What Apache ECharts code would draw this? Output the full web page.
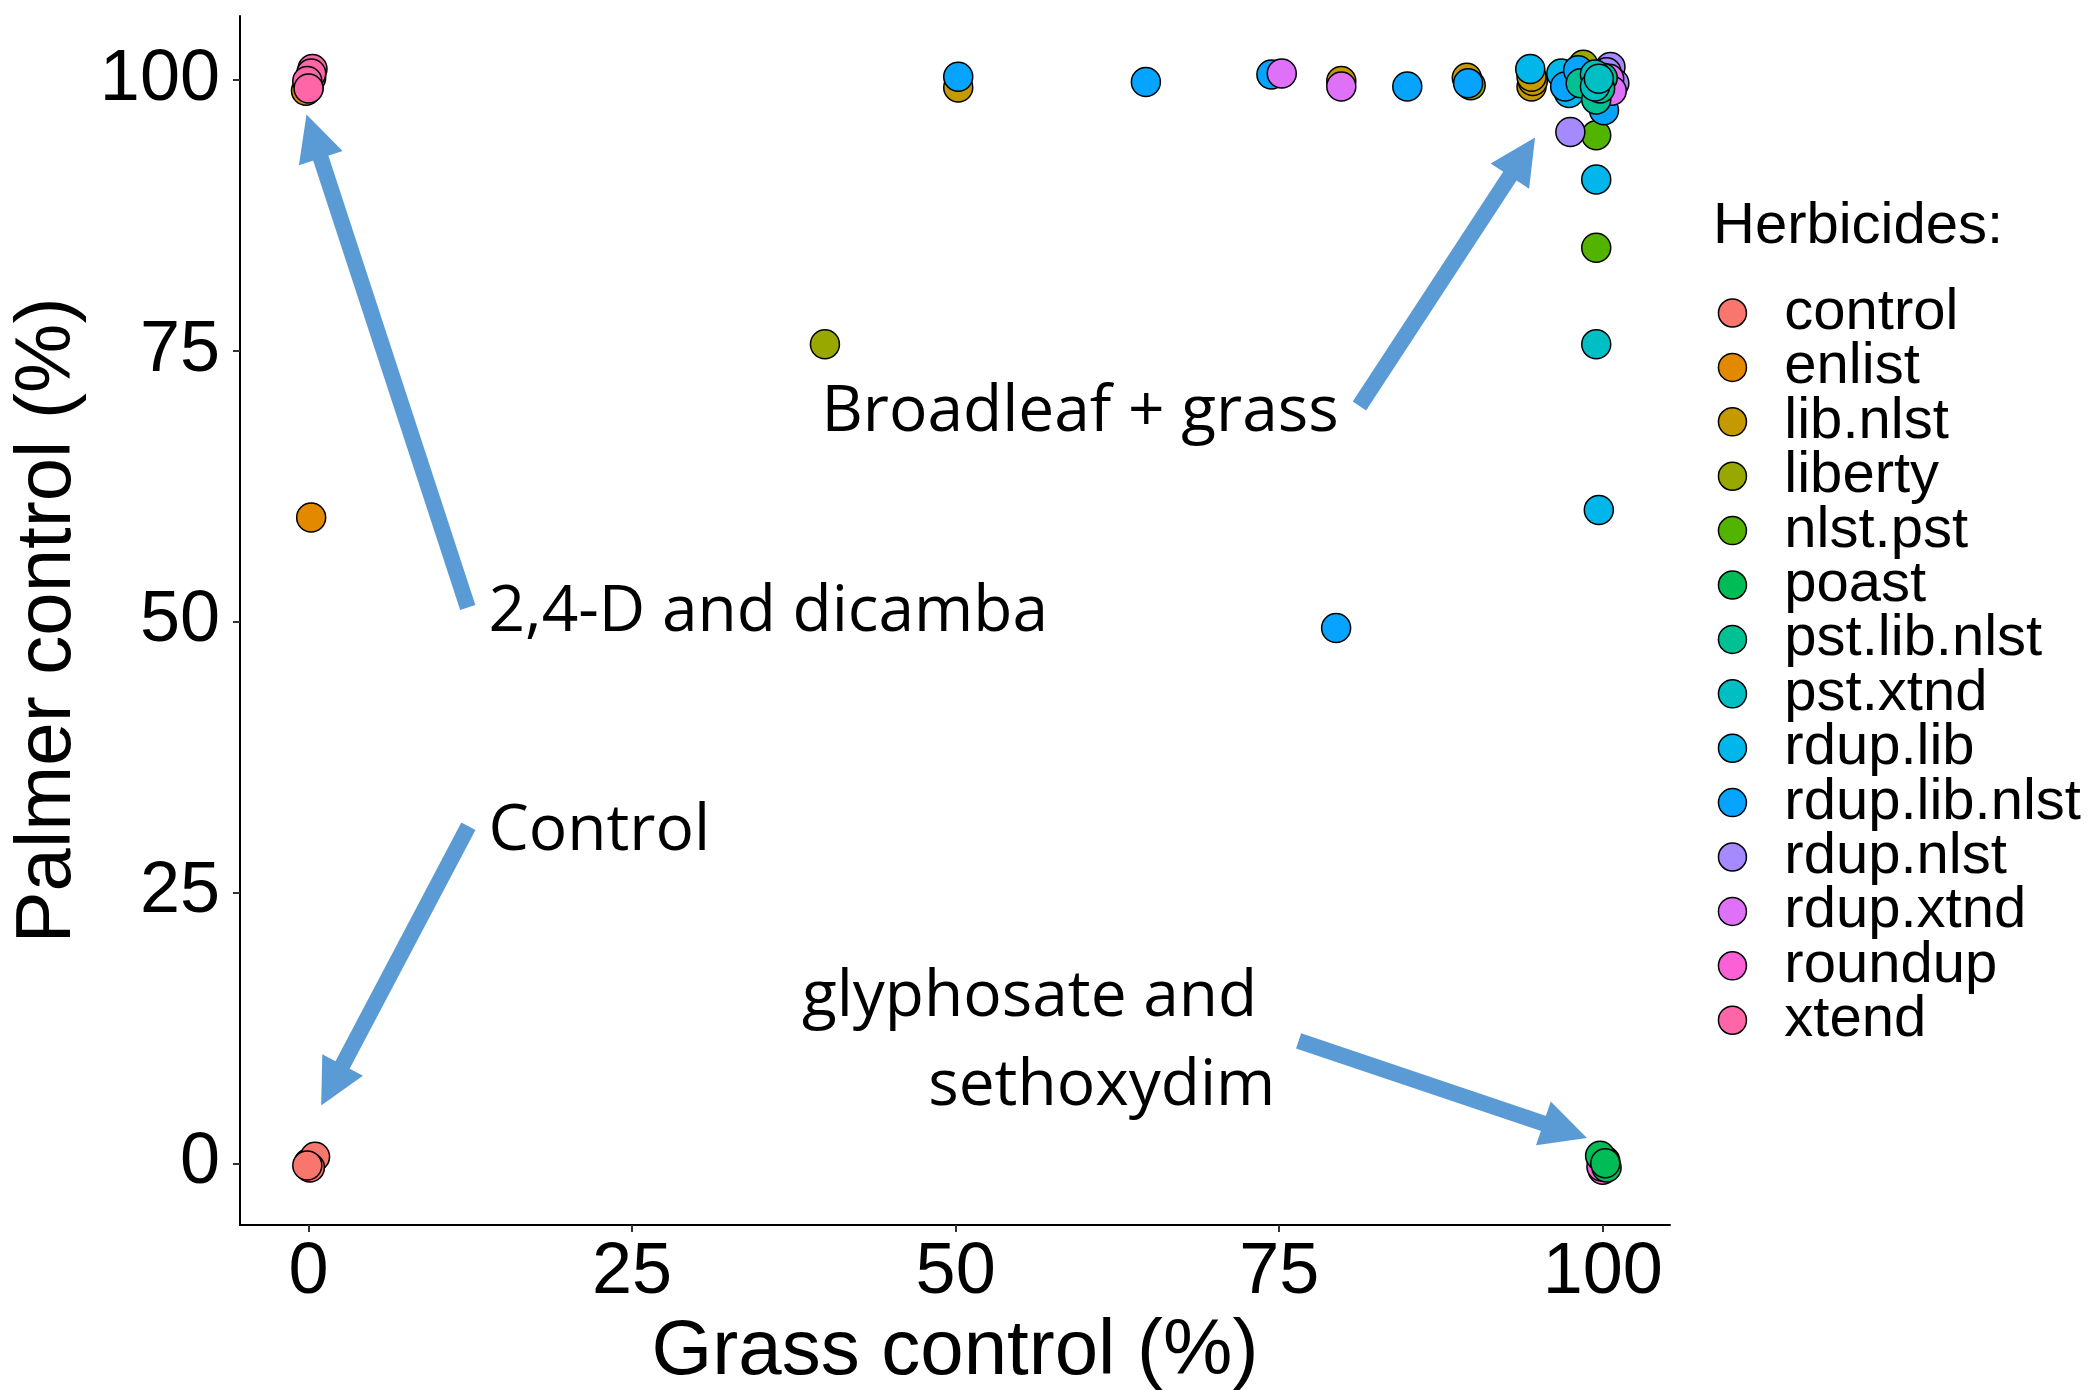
<!DOCTYPE html>
<html>
<head>
<meta charset="utf-8">
<script src="https://cdn.jsdelivr.net/npm/echarts@6/dist/echarts.min.js"></script>
<style>
html,body{margin:0;padding:0;background:#fff;}
#chart{width:2087px;height:1390px;}
</style>
</head>
<body>
<div id="chart"></div>
<script>
// ---- data ----
const categories = ['control','enlist','lib.nlst','liberty','nlst.pst','poast','pst.lib.nlst','pst.xtnd','rdup.lib','rdup.lib.nlst','rdup.nlst','rdup.xtnd','roundup','xtend'];
const colors = ['#F8766D','#E38900','#C49A00','#99A800','#53B400','#00BC56','#00C094','#00BFC4','#00B6EB','#06A4FF','#A58AFF','#DF70F8','#FB61D7','#FF66A8'];
const tickValues = [0,25,50,75,100];

const ptsControl = [[0.0,0.0],[0.5,0.6],[0.1,-0.4],[-0.1,-0.2]];
const ptsEnlist = [[0.2,59.6],[0.0,99.4],[0.2,100.2],[-0.2,99.0]];
const ptsLibNlst = [[50.2,99.3],[79.8,99.9],[89.5,100.2],[94.5,99.4],[94.6,99.9],[94.5,100.3]];
const ptsLiberty = [[39.9,75.6],[89.8,99.5],[98.5,101.4],[100.1,100.6]];
const ptsNlstPst = [[99.5,94.9],[99.5,84.5],[100.1,99.8],[100.4,100.3]];
const ptsPoast = [[100.0,0.4],[100.3,-0.4],[99.8,0.7],[100.2,0.0]];
const ptsPstLibNlst = [[98.3,99.7],[99.5,98.2],[100.0,100.2],[99.8,99.2]];
const ptsPstXtnd = [[99.5,75.6],[99.4,100.5],[99.4,99.4],[99.7,100.1]];
const ptsRdupLib = [[99.7,60.3],[99.5,90.8],[97.4,98.8],[94.4,101.0],[96.8,100.6]];
const ptsRdupLibNlst = [[79.4,49.4],[64.7,99.8],[84.9,99.4],[100.1,97.2],[50.2,100.3],[74.4,100.5],[89.6,99.7],[97.1,99.4],[98.1,100.9]];
const ptsRdupNlst = [[97.5,95.2],[100.6,101.2],[100.9,99.7],[100.3,100.7]];
const ptsRdupXtnd = [[75.2,100.6],[79.8,99.4],[100.5,100.1],[100.7,99.0]];
const ptsRoundup = [[100.0,-0.6],[100.2,0.2],[99.9,-0.3]];
const ptsXtend = [[0.3,101.0],[0.2,100.6],[-0.1,99.9],[0.0,99.2]];

const allPoints = [ptsControl,ptsEnlist,ptsLibNlst,ptsLiberty,ptsNlstPst,ptsPoast,ptsPstLibNlst,ptsPstXtnd,ptsRdupLib,ptsRdupLibNlst,ptsRdupNlst,ptsRdupXtnd,ptsRoundup,ptsXtend];

// annotation arrows: [xStart, yStart, xHead, yHead] in data units
const arrowCoords = [[12.3,51.3,0.39,94.8],[81.2,69.9,93.8,92.9],[12.35,31.1,1.8,7.2],[76.5,11.3,97.1,3.0]];
// annotation texts
const annoText = ['2,4-D and dicamba','Control','Broadleaf + grass','glyphosate and','sethoxydim'];
const annoX = [13.9,13.9,79.6,73.3,74.7];
const annoY = [50.8,30.6,69.3,15.3,7.1];
const annoAlign = ['left','left','right','right','right'];

// ---- chart ----
const chart = echarts.init(document.getElementById('chart'), null, {renderer:'canvas'});
const axisFont = 'Liberation Sans, Arial, sans-serif';

const zOrder = {'roundup':1,'pst.xtnd':4,'pst.lib.nlst':3};
const scatterSeries = categories.map((name,i)=>({
  name: name,
  type: 'scatter',
  data: allPoints[i],
  symbol: 'circle',
  symbolSize: 29,
  z: zOrder[name] !== undefined ? zOrder[name] : 2,
  itemStyle: {color: colors[i], borderColor: '#000', borderWidth: 1.5, opacity: 1},
  emphasis: {disabled: true}
}));

const arrowSeries = {
  type: 'lines',
  coordinateSystem: 'cartesian2d',
  silent: true,
  z: 1,
  symbol: ['none','triangle'],
  symbolSize: [46,46],
  lineStyle: {color: '#5B9BD5', width: 16, opacity: 1, curveness: 0},
  itemStyle: {color: '#5B9BD5'},
  data: arrowCoords.map(a=>({coords: [[a[0],a[1]],[a[2],a[3]]]}))
};

const annoSeries = {
  type: 'scatter',
  silent: true,
  symbolSize: 0,
  z: 5,
  data: annoText.map((t,i)=>({
    name: t,
    value: [annoX[i], annoY[i]],
    label: {
      show: true,
      position: 'inside',
      formatter: '{b}',
      align: annoAlign[i],
      verticalAlign: 'middle',
      color: '#000',
      opacity: 1,
      fontFamily: 'Open Sans, sans-serif',
      fontWeight: 500,
      fontSize: 64
    }
  }))
};

chart.setOption({
  backgroundColor: '#fff',
  animation: false,
  title: {
    text: 'Herbicides:',
    left: 1713, top: 198, padding: 0,
    textStyle: {fontFamily: axisFont, fontSize: 58, fontWeight: 'normal', color: '#000'}
  },
  legend: {
    data: categories,
    orient: 'vertical',
    left: 1717.7, top: 284, padding: 0,
    itemWidth: 93.8, itemHeight: 28, itemGap: -3.6,
    icon: 'circle',
    selectedMode: false,
    itemStyle: {borderColor: '#000', borderWidth: 1.5},
    textStyle: {fontFamily: axisFont, fontSize: 58, color: '#000'}
  },
  grid: {left: 240, right: 417, top: 16, bottom: 165, containLabel: false, outerBoundsMode: 'none'},
  xAxis: {
    type: 'value', min: -5.3, max: 105.2,
    name: 'Grass control (%)', nameLocation: 'middle', nameGap: 120,
    nameTextStyle: {fontFamily: axisFont, fontSize: 78, color: '#000', verticalAlign: 'middle'},
    axisLine: {show: true, onZero: false, lineStyle: {color: '#000', width: 2}},
    axisTick: {show: true, length: 7, inside: false, customValues: tickValues, lineStyle: {color: '#333', width: 2}},
    axisLabel: {customValues: tickValues, margin: 12, fontFamily: axisFont, fontSize: 72, color: '#000'},
    splitLine: {show: false}
  },
  yAxis: {
    type: 'value', min: -5.7, max: 105.9,
    name: 'Palmer control (%)', nameLocation: 'middle', nameGap: 192, nameRotate: 90,
    nameTextStyle: {fontFamily: axisFont, fontSize: 78, color: '#000', verticalAlign: 'middle'},
    axisLine: {show: true, onZero: false, lineStyle: {color: '#000', width: 2}},
    axisTick: {show: true, length: 7, inside: false, customValues: tickValues, lineStyle: {color: '#333', width: 2}},
    axisLabel: {customValues: tickValues, margin: 20, padding: [6,0,0,0], fontFamily: axisFont, fontSize: 72, color: '#000'},
    splitLine: {show: false}
  },
  series: [arrowSeries].concat(scatterSeries).concat([annoSeries])
});
</script>
</body>
</html>
